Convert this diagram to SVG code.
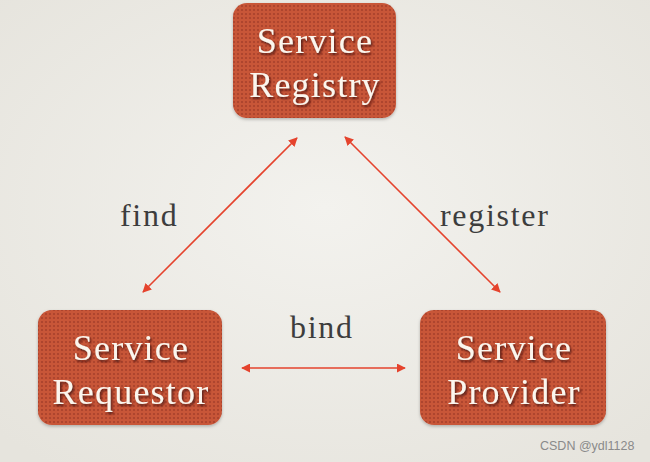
<svg xmlns="http://www.w3.org/2000/svg" width="650" height="462" viewBox="0 0 650 462">
<defs>
<radialGradient id="bg" cx="50%" cy="45%" r="70%">
<stop offset="0" stop-color="#f3f2ee"/>
<stop offset="1" stop-color="#e6e4dd"/>
</radialGradient>
<pattern id="dots" width="4" height="4" patternUnits="userSpaceOnUse">
<rect width="4" height="4" fill="#c85639"/>
<circle cx="2" cy="2" r="1.1" fill="#a8402a"/>
</pattern>
<filter id="ts" x="-10%" y="-10%" width="130%" height="140%">
<feDropShadow dx="1.5" dy="2" stdDeviation="1" flood-color="#3a1008" flood-opacity="0.8"/>
</filter>
<filter id="bs" x="-10%" y="-10%" width="120%" height="125%">
<feDropShadow dx="0" dy="1.5" stdDeviation="1.5" flood-color="#000" flood-opacity="0.25"/>
</filter>
<marker id="ah" viewBox="0 0 10 10" refX="9" refY="5" markerWidth="9" markerHeight="9" markerUnits="userSpaceOnUse" orient="auto-start-reverse">
<path d="M0,0 L10,5 L0,10 Z" fill="#e5432d"/>
</marker>
<style>
.box{fill:url(#dots);filter:url(#bs)}
.bt{font-family:"Liberation Serif",serif;font-size:36px;letter-spacing:1.2px;fill:#fbf6ee;text-anchor:middle;filter:url(#ts)}
.lbl{font-family:"Liberation Serif",serif;font-size:32px;letter-spacing:1.7px;fill:#3d3d3d}
.ln{stroke:#e5432d;stroke-width:1.6;fill:none;marker-start:url(#ah);marker-end:url(#ah)}
</style>
</defs>
<rect width="650" height="462" fill="url(#bg)"/>
<g id="connectors">
<line class="ln" x1="143" y1="292" x2="297" y2="138"/>
<line class="ln" x1="345" y1="137" x2="500" y2="292"/>
<line class="ln" x1="242" y1="368" x2="405" y2="368"/>
</g>
<g id="registry">
<rect class="box" x="233" y="3" width="163" height="115" rx="14"/>
<text class="bt" x="315" y="53">Service</text>
<text class="bt" x="315" y="97">Registry</text>
</g>
<g id="requestor">
<rect class="box" x="38" y="310" width="184" height="115" rx="14"/>
<text class="bt" x="131" y="360">Service</text>
<text class="bt" x="131" y="404">Requestor</text>
</g>
<g id="provider">
<rect class="box" x="420" y="310" width="186" height="115" rx="14"/>
<text class="bt" x="514" y="360">Service</text>
<text class="bt" x="514" y="404">Provider</text>
</g>
<g id="labels">
<text class="lbl" x="120" y="226">find</text>
<text class="lbl" x="440" y="226">register</text>
<text class="lbl" x="290" y="338">bind</text>
</g>
<text x="540" y="450" font-family="Liberation Sans,sans-serif" font-size="12.5" fill="#8a8a8a">CSDN @ydl1128</text>
</svg>
